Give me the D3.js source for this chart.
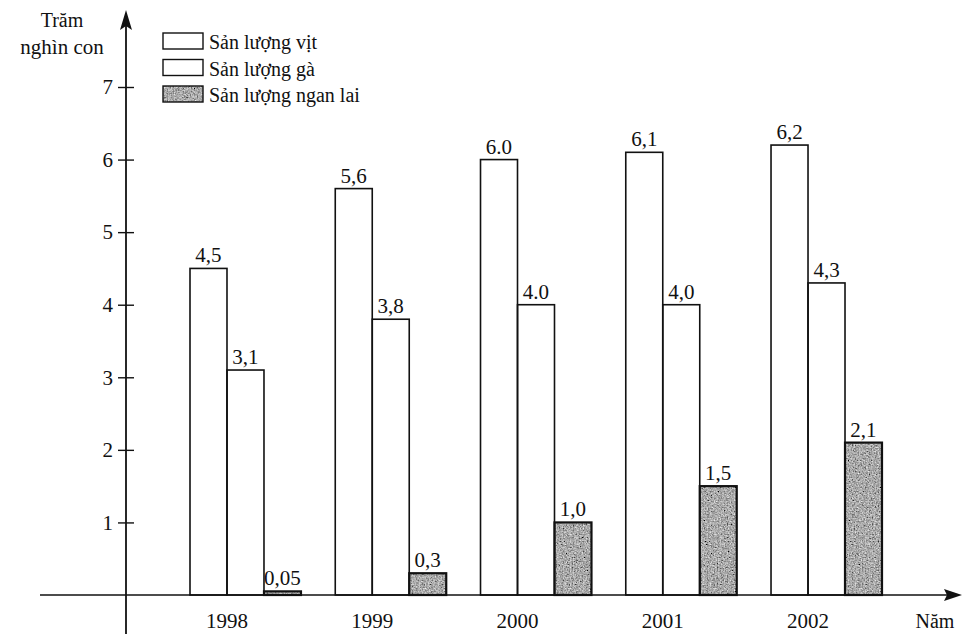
<!DOCTYPE html>
<html><head><meta charset="utf-8">
<script src="https://cdn.jsdelivr.net/npm/d3@7"></script>
<style>
html,body{margin:0;padding:0;background:#fff;}
text{font-family:"Liberation Serif","Times New Roman",serif;fill:#111;}
</style></head>
<body><svg id="chart" width="969" height="634"></svg>
<script>
const years = ["1998","1999","2000","2001","2002"];
const seriesNames = ["Sản lượng vịt","Sản lượng gà","Sản lượng ngan lai"];
const vit = [4.5, 5.6, 6.0, 6.1, 6.2];
const ga = [3.1, 3.8, 4.0, 4.0, 4.3];
const ngan = [0.05, 0.3, 1.0, 1.5, 2.1];
const vitLabels = ["4,5","5,6","6.0","6,1","6,2"];
const gaLabels = ["3,1","3,8","4.0","4,0","4,3"];
const nganLabels = ["0,05","0,3","1,0","1,5","2,1"];
const yTicks = [1,2,3,4,5,6,7];

const svg = d3.select("#chart");
const defs = svg.append("defs");
const f = defs.append("filter").attr("id","grain").attr("x",0).attr("y",0).attr("width",1).attr("height",1);
f.append("feTurbulence").attr("type","fractalNoise").attr("baseFrequency",0.7).attr("numOctaves",2).attr("seed",3).attr("result","n");
f.append("feColorMatrix").attr("in","n").attr("type","matrix")
 .attr("values","0.6 0.6 0.6 0 -0.5  0.6 0.6 0.6 0 -0.5  0.6 0.6 0.6 0 -0.5  0 0 0 0 1").attr("result","g");
f.append("feComposite").attr("in","g").attr("in2","SourceGraphic").attr("operator","in");

const y = d3.scaleLinear().domain([0,7]).range([595, 87]);
const x = d3.scaleBand().domain(years).range([190, 882]).paddingInner(0.236).paddingOuter(0);
const xs = d3.scaleBand().domain(seriesNames).range([0, x.bandwidth()]);

const data = years.map((yr,i)=>({year:yr, vals:[
  {s:seriesNames[0], v:vit[i], l:vitLabels[i]},
  {s:seriesNames[1], v:ga[i], l:gaLabels[i]},
  {s:seriesNames[2], v:ngan[i], l:nganLabels[i]}
]}));

const g = svg.selectAll("g.yr").data(data).join("g").attr("class","yr")
  .attr("transform", d=>`translate(${x(d.year)},0)`);

g.selectAll("rect.fillg").data(d=>d.vals.filter(v=>v.s===seriesNames[2])).join("rect")
  .attr("class","fillg")
  .attr("x", d=>xs(d.s)).attr("width", xs.bandwidth())
  .attr("y", d=>y(d.v)).attr("height", d=>y(0)-y(d.v))
  .attr("fill","#6a6a6a").attr("filter","url(#grain)");

g.selectAll("rect.bar").data(d=>d.vals).join("rect")
  .attr("class","bar")
  .attr("x", d=>xs(d.s)).attr("width", xs.bandwidth())
  .attr("y", d=>y(d.v)).attr("height", d=>y(0)-y(d.v))
  .attr("fill", "none").attr("stroke","#111")
  .attr("stroke-width", d=>d.s===seriesNames[2]?2.2:1.6);

g.selectAll("text.val").data(d=>d.vals).join("text")
  .attr("class","val")
  .attr("x", d=>xs(d.s)+xs.bandwidth()/2).attr("y", d=>y(d.v)-6)
  .attr("text-anchor","middle").attr("font-size",21).text(d=>d.l);

// year labels
g.append("text").attr("x", xs(seriesNames[1])).attr("y", 628)
  .attr("text-anchor","middle").attr("font-size",21).text(d=>d.year);

// axes
const ax = svg.append("g");
ax.append("line").attr("x1",40).attr("x2",950).attr("y1",y(0)).attr("y2",y(0)).attr("stroke","#111").attr("stroke-width",1.6);
ax.append("path").attr("d",`M962,${y(0)} L944,${y(0)-6} L947,${y(0)} L944,${y(0)+6} Z`).attr("fill","#111");
ax.append("line").attr("x1",126).attr("x2",126).attr("y1",634).attr("y2",22).attr("stroke","#111").attr("stroke-width",1.8);
ax.append("path").attr("d",`M126,10 L120,30 L126,26 L132,30 Z`).attr("fill","#111");

const yAxis = d3.axisLeft(y).tickValues(yTicks).tickSize(0).tickFormat(d3.format("d"));
const ya = svg.append("g").attr("transform","translate(126,0)").call(yAxis);
ya.select(".domain").remove();
ya.selectAll(".tick line").attr("x1",-8).attr("x2",8).attr("stroke","#111").attr("stroke-width",1.4);
ya.selectAll(".tick text").attr("x",-13).attr("font-size",21)
  .attr("font-family","Liberation Serif, Times New Roman, serif").attr("fill","#111");

svg.append("text").attr("x",62).attr("y",27).attr("text-anchor","middle").attr("font-size",20).text("Trăm");
svg.append("text").attr("x",62).attr("y",54).attr("text-anchor","middle").attr("font-size",21).text("nghìn con");
svg.append("text").attr("x",935).attr("y",628).attr("text-anchor","middle").attr("font-size",20).text("Năm");

// legend
const lg = svg.append("g").selectAll("g").data(seriesNames).join("g")
  .attr("transform",(d,i)=>`translate(163,${33+i*26.5})`);
lg.filter((d,i)=>i===2).append("rect").attr("width",40).attr("height",16).attr("fill","#6a6a6a").attr("filter","url(#grain)");
lg.append("rect").attr("width",40).attr("height",16).attr("fill","none").attr("stroke","#111").attr("stroke-width",1.4);
lg.append("text").attr("x",46).attr("y",16).attr("font-size",20).text(d=>d);
</script></body></html>
